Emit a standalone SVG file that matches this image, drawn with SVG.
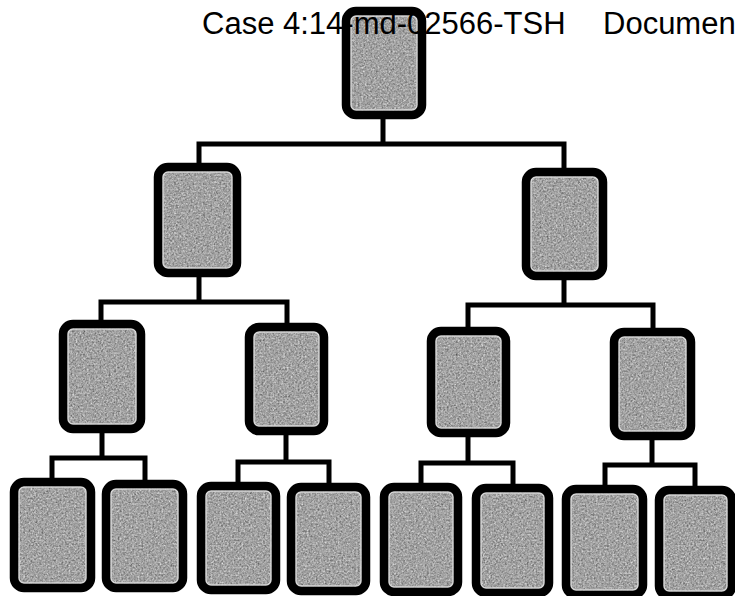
<svg xmlns="http://www.w3.org/2000/svg" width="735" height="596" viewBox="0 0 735 596">
<defs>
<filter id="grain" x="0" y="0" width="100%" height="100%" color-interpolation-filters="sRGB">
<feTurbulence type="fractalNoise" baseFrequency="0.55" numOctaves="2" seed="7" result="n"/>
<feColorMatrix in="n" type="matrix" values="0.33 0.33 0.33 0 0  0.33 0.33 0.33 0 0  0.33 0.33 0.33 0 0  0 0 0 0 1" result="g"/>
<feComponentTransfer in="g" result="t">
<feFuncR type="linear" slope="1.0" intercept="0.14"/>
<feFuncG type="linear" slope="1.0" intercept="0.14"/>
<feFuncB type="linear" slope="1.0" intercept="0.14"/>
</feComponentTransfer>
<feComposite in="t" in2="SourceGraphic" operator="in"/>
</filter>
</defs>
<style>
.fill{fill:#a4a4a4;filter:url(#grain)}
.rim{fill:none;stroke:#d8d8d8;stroke-width:1.5}
.box{fill:none;stroke:#000;stroke-width:8.5}
.wire{fill:none;stroke:#000;stroke-width:5;stroke-linejoin:miter}
.cap{font-family:"Liberation Sans",Arial,sans-serif;font-size:31px;fill:#000}
</style>
<rect width="735" height="596" fill="#fff"/>
<g id="connectors" class="wire">
<path d="M383,117 V144 M199,165 V144 H564 V170"/>
<path d="M199,275 V302 M101,322 V302 H287 V325"/>
<path d="M564,278 V305 M468,329 V305 H653 V330"/>
<path d="M102,431 V458 M52,480 V458 H145 V482"/>
<path d="M286,433 V462 M238,484 V462 H329 V485"/>
<path d="M468,435 V463 M421,485 V463 H513 V486"/>
<path d="M652,438 V465 M605,487 V465 H695 V488"/>
</g>
<g id="n-root"><rect class="fill" x="348" y="13" width="72" height="100" rx="7"/><rect class="rim" x="351" y="16" width="66" height="94" rx="5"/><rect class="box" x="346" y="11" width="76" height="104" rx="10"/></g>
<g id="n-2a"><rect class="fill" x="160" y="169" width="75" height="102" rx="7"/><rect class="rim" x="163" y="172" width="69" height="96" rx="5"/><rect class="box" x="158" y="167" width="79" height="106" rx="10"/></g>
<g id="n-2b"><rect class="fill" x="528" y="174" width="73" height="100" rx="7"/><rect class="rim" x="531" y="177" width="67" height="94" rx="5"/><rect class="box" x="526" y="172" width="77" height="104" rx="10"/></g>
<g id="n-3a"><rect class="fill" x="65" y="326" width="74" height="101" rx="7"/><rect class="rim" x="68" y="329" width="68" height="95" rx="5"/><rect class="box" x="63" y="324" width="78" height="105" rx="10"/></g>
<g id="n-3b"><rect class="fill" x="251" y="329" width="71" height="100" rx="7"/><rect class="rim" x="254" y="332" width="65" height="94" rx="5"/><rect class="box" x="249" y="327" width="75" height="104" rx="10"/></g>
<g id="n-3c"><rect class="fill" x="433" y="333" width="71" height="98" rx="7"/><rect class="rim" x="436" y="336" width="65" height="92" rx="5"/><rect class="box" x="431" y="331" width="75" height="102" rx="10"/></g>
<g id="n-3d"><rect class="fill" x="616" y="334" width="73" height="100" rx="7"/><rect class="rim" x="619" y="337" width="67" height="94" rx="5"/><rect class="box" x="614" y="332" width="77" height="104" rx="10"/></g>
<g id="n-4a"><rect class="fill" x="16" y="484" width="73" height="102" rx="7"/><rect class="rim" x="19" y="487" width="67" height="96" rx="5"/><rect class="box" x="14" y="482" width="77" height="106" rx="10"/></g>
<g id="n-4b"><rect class="fill" x="108" y="486" width="73" height="100" rx="7"/><rect class="rim" x="111" y="489" width="67" height="94" rx="5"/><rect class="box" x="106" y="484" width="77" height="104" rx="10"/></g>
<g id="n-4c"><rect class="fill" x="203" y="488" width="71" height="100" rx="7"/><rect class="rim" x="206" y="491" width="65" height="94" rx="5"/><rect class="box" x="201" y="486" width="75" height="104" rx="10"/></g>
<g id="n-4d"><rect class="fill" x="293" y="489" width="71" height="100" rx="7"/><rect class="rim" x="296" y="492" width="65" height="94" rx="5"/><rect class="box" x="291" y="487" width="75" height="104" rx="10"/></g>
<g id="n-4e"><rect class="fill" x="386" y="489" width="70" height="101" rx="7"/><rect class="rim" x="389" y="492" width="64" height="95" rx="5"/><rect class="box" x="384" y="487" width="74" height="105" rx="10"/></g>
<g id="n-4f"><rect class="fill" x="478" y="490" width="69" height="101" rx="7"/><rect class="rim" x="481" y="493" width="63" height="95" rx="5"/><rect class="box" x="476" y="488" width="73" height="105" rx="10"/></g>
<g id="n-4g"><rect class="fill" x="568" y="491" width="73" height="102" rx="7"/><rect class="rim" x="571" y="494" width="67" height="96" rx="5"/><rect class="box" x="566" y="489" width="77" height="106" rx="10"/></g>
<g id="n-4h"><rect class="fill" x="661" y="492" width="69" height="102" rx="7"/><rect class="rim" x="664" y="495" width="63" height="96" rx="5"/><rect class="box" x="659" y="490" width="73" height="106" rx="10"/></g>
<g id="header"><text class="cap" x="202" y="34">Case 4:14-md-02566-TSH</text><text class="cap" x="603" y="34">Documen</text></g>
</svg>
